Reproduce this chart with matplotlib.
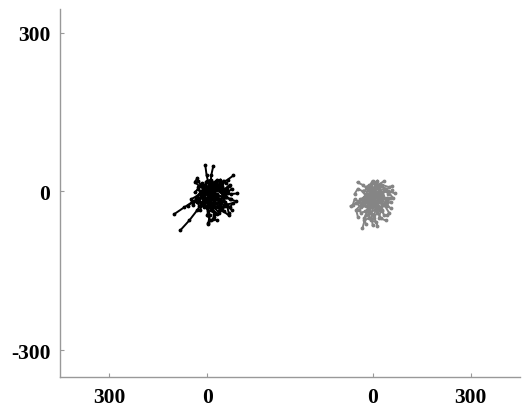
import numpy as np
import matplotlib
matplotlib.use('Agg')
import matplotlib.pyplot as plt

# horizontal shift between the two groups (data units)
offset = 505

# black group tracks (um, relative to start)
black_x = [
    [0, 4, -2, -6], [0, 10, 12, 18], [0, 20, 45, 62, 80], [0, -15, -40, -70, -101],
    [0, -10, -30, -55, -83], [0, 5, -2, 8, 3], [0, 25, 50, 72, 92], [0, 20, 45, 70, 89],
    [0, 12, 28, 35, 50], [0, -12, -20, -28], [0, 15, 30, 25, 40], [0, -8, 5, 20, 35],
    [0, 30, 55, 60, 75], [0, -20, -35, -50, -45], [0, 18, 10, 25, 45], [0, 5, 15, 30, 20],
    [0, 40, 55, 68], [0, -5, 10, 22, 15], [0, 22, 38, 50, 65], [0, -25, -38, -30],
    [0, 8, -5, -15, -22], [0, 35, 48, 62, 74], [0, 10, 25, 18, 30], [0, -10, -25, -45, -60],
    [0, 28, 40, 58], [0, 15, 5, -8, 2], [0, 45, 60, 78, 70], [0, -15, -28, -20, -35],
    [0, 20, 32, 45, 55], [0, 5, 20, 15, 28],
    [0, 15, 25, 40, 55, 60], [0, -10, 0, 15, 10], [0, 20, 35, 30, 45, 55], [0, -18, -10, -25, -30],
    [0, 12, 25, 40, 50], [0, 30, 20, 40, 35], [0, -5, -15, -8, 5, 12], [0, 25, 40, 55, 48],
    [0, 5, 15, 10, 22], [0, -20, -30, -22, -10], [0, 18, 30, 42, 38], [0, 8, 18, 30, 45],
    [0, 35, 45, 60, 65], [0, -12, -5, 10, 25], [0, 50, 65, 58, 72], [0, 12, 0, -15, -28, -38],
    [0, 5, 0, 10, 3], [0, 22, 12, 28, 20],
]
black_y = [
    [0, 15, 30, 49], [0, 12, 30, 47], [0, 5, 15, 22, 30], [0, -8, -18, -30, -43],
    [0, -15, -35, -55, -74], [0, -15, -30, -45, -60], [0, 3, -2, -5, -4], [0, -5, -10, -15, -19],
    [0, -8, -5, -20, -25], [0, 5, 12, 20], [0, 10, 8, 18, 22], [0, -12, -25, -30, -40],
    [0, -12, -20, -28, -35], [0, -3, -10, -15, -25], [0, 15, 20, 12, 15], [0, -20, -35, -42, -48],
    [0, 8, 5, 12], [0, 18, 22, 10, 3], [0, -22, -30, -38, -45], [0, 10, 18, 25],
    [0, -6, -18, -25, -35], [0, 2, -8, -3, 5], [0, -30, -40, -52, -55], [0, -5, -15, -20, -28],
    [0, 18, 20, 16], [0, 5, -10, -20, -38], [0, -10, -25, -22, -30], [0, 15, 8, -5, -12],
    [0, 2, 10, 5, -10], [0, 10, 0, -15, -12],
    [0, -5, 5, 0, -8, 2], [0, 10, 20, 15, 5], [0, -10, -15, -30, -35, -28], [0, -10, -22, -28, -20],
    [0, 12, 18, 10, 20], [0, -5, -20, -25, -38], [0, 5, -5, -15, -22, -12], [0, 8, 0, -10, -18],
    [0, -8, -22, -35, -42], [0, 0, -10, -20, -30], [0, -15, -8, -18, -25], [0, 20, 15, 22, 10],
    [0, -18, -30, -25, -40], [0, -20, -30, -32, -22], [0, 0, 10, -10, -15], [0, -2, 8, 12, 5, -2],
    [0, -30, -45, -55, -62], [0, 5, -8, -15, -28],
]

# gray group tracks
gray_x = [
    [0, -20, -40, -67], [0, -15, -30, -46], [0, 10, 22, 34], [0, 25, 48, 70],
    [0, -10, -20, -31], [0, 5, -3, 0], [0, 20, 38, 55], [0, -5, 8, 15, 25],
    [0, -25, -35, -50, -45], [0, 10, 0, -10, 5], [0, 30, 45, 40, 55], [0, -15, -10, -25, -20],
    [0, 15, 25, 20, 40], [0, -30, -45, -55], [0, 20, 30, 50, 60], [0, -8, -20, -15, -30],
    [0, 12, 30, 25], [0, -20, -5, 10, -10], [0, 35, 50, 45], [0, -5, 5, 15],
    [0, -40, -55, -60], [0, 8, 20, 10, 30], [0, -12, -2, -22, -35], [0, 25, 40, 62],
    [0, 0, -10, 5, 15],
    [0, 10, 20, 15, 25], [0, -10, -20, -30, -40], [0, 5, 15, 30, 40], [0, -8, -18, -12, -25],
    [0, 18, 10, 28, 35], [0, -15, -30, -20, -38], [0, 8, 0, 12, 5], [0, 20, 35, 48, 60],
    [0, -5, -15, -5, 10], [0, 15, 5, -10, -20], [0, 25, 15, 30, 20], [0, -25, -20, -35, -50],
    [0, 10, 25, 38, 30], [0, -5, -15, 0, -8], [0, 30, 40, 52, 45],
]
gray_y = [
    [0, -8, -18, -28], [0, 5, 12, 17], [0, 8, 14, 19], [0, -3, 0, -4],
    [0, -25, -45, -70], [0, -20, -42, -64], [0, -10, -22, -32], [0, -15, -28, -40, -50],
    [0, -10, -25, -35, -48], [0, 15, 20, 10, 18], [0, -15, -12, -25, -20], [0, -30, -50, -55, -62],
    [0, -25, -35, -50, -55], [0, 0, 5, -5], [0, 5, 12, 8, 10], [0, 8, -5, -18, -20],
    [0, -5, -8, -20], [0, -15, -30, -35, -40], [0, -25, -40, -45], [0, 10, 15, 20],
    [0, -20, -15, -25], [0, -10, -20, -30, -38], [0, -12, -25, -38, -40], [0, 10, 5, -12],
    [0, -20, -35, -50, -65],
    [0, -5, -15, -25, -30], [0, -5, -10, -25, -35], [0, 5, -5, -2, -15], [0, -12, -20, -32, -50],
    [0, -18, -30, -35, -45], [0, 5, 0, -10, -15], [0, -8, -18, -28, -45], [0, 0, 5, -5, 2],
    [0, -25, -35, -55, -58], [0, 12, 5, 12, 8], [0, -5, -20, -25, -35], [0, -15, -28, -30, -22],
    [0, 15, 10, 5, -8], [0, 5, -10, -15, -28], [0, -5, -18, -12, -28],
]

xtick_pos = [-300, 0, offset, offset + 300]
xtick_lab = ['300', '0', '0', '300']
ytick_pos = [300, 0, -300]
ytick_lab = ['300', '0', '-300']

plt.rcParams['font.family'] = ['Liberation Serif', 'DejaVu Serif']

fig = plt.figure(figsize=(5.31, 4.10), dpi=100)
ax = fig.add_axes([0.113, 0.078, 0.866, 0.898])

for xs, ys in zip(black_x, black_y):
    ax.plot(xs, ys, '.-', color='black', lw=1.4, ms=3.5)
for xs, ys in zip(gray_x, gray_y):
    ax.plot(np.array(xs) + offset, ys, '.-', color='#858585', lw=1.4, ms=3.5)

ax.set_xlim(-450, offset + 450)
ax.set_ylim(-351, 345)
ax.set_xticks(xtick_pos)
ax.set_xticklabels(xtick_lab, fontsize=15.5, fontweight='bold')
ax.set_yticks(ytick_pos)
ax.set_yticklabels(ytick_lab, fontsize=15.5, fontweight='bold')
ax.tick_params(direction='in', length=3, color='#999999', pad=7)
for s in ['top', 'right']:
    ax.spines[s].set_visible(False)
for s in ['left', 'bottom']:
    ax.spines[s].set_color('#999999')
    ax.spines[s].set_linewidth(1)

fig.savefig('out.png', dpi=100)
